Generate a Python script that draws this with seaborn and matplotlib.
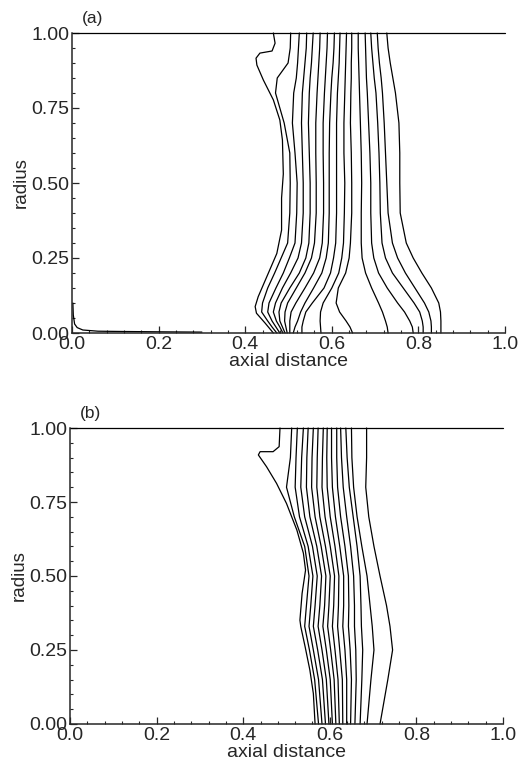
import numpy as np
import pandas as pd
import matplotlib
matplotlib.use("Agg")
import matplotlib.pyplot as plt
import seaborn as sns
from matplotlib.ticker import MultipleLocator, FormatStrFormatter

sns.set_style("ticks")
plt.rcParams['font.family'] = ['Liberation Sans', 'DejaVu Sans']

# ---------------- panel (a) data ----------------
A_R = [1.0, 0.95, 0.9, 0.85, 0.8, 0.7, 0.6, 0.5, 0.4, 0.3, 0.25, 0.2, 0.15, 0.1, 0.07, 0.04, 0.02, 0.0]
A1_X = [0.465, 0.469, 0.462, 0.434, 0.425, 0.427, 0.442, 0.465, 0.480, 0.486, 0.488, 0.484, 0.484, 0.473, 0.450, 0.430, 0.423, 0.426, 0.446, 0.465]
A1_R = [1.0, 0.966, 0.94, 0.933, 0.916, 0.893, 0.843, 0.777, 0.71, 0.643, 0.53, 0.45, 0.343, 0.265, 0.188, 0.121, 0.088, 0.066, 0.033, 0.0]
A_LINES = [
    [0.505, 0.504, 0.499, 0.474, 0.470, 0.490, 0.503, 0.504, 0.503, 0.498, 0.483, 0.468, 0.452, 0.440, 0.438, 0.452, 0.462, 0.473],
    [0.525, 0.523, 0.521, 0.518, 0.512, 0.509, 0.515, 0.520, 0.519, 0.515, 0.502, 0.488, 0.471, 0.455, 0.452, 0.462, 0.471, 0.480],
    [0.542, 0.541, 0.538, 0.535, 0.532, 0.530, 0.532, 0.534, 0.534, 0.530, 0.522, 0.505, 0.486, 0.470, 0.465, 0.472, 0.480, 0.487],
    [0.557, 0.555, 0.553, 0.550, 0.548, 0.546, 0.548, 0.550, 0.550, 0.547, 0.540, 0.525, 0.503, 0.483, 0.478, 0.480, 0.486, 0.492],
    [0.573, 0.572, 0.570, 0.568, 0.566, 0.563, 0.563, 0.564, 0.564, 0.560, 0.553, 0.538, 0.518, 0.498, 0.492, 0.491, 0.494, 0.497],
    [0.590, 0.589, 0.587, 0.585, 0.583, 0.580, 0.580, 0.581, 0.581, 0.578, 0.572, 0.558, 0.538, 0.517, 0.506, 0.503, 0.503, 0.503],
    [0.606, 0.605, 0.603, 0.600, 0.598, 0.595, 0.594, 0.594, 0.594, 0.592, 0.587, 0.577, 0.558, 0.538, 0.528, 0.521, 0.515, 0.511],
    [0.619, 0.618, 0.617, 0.615, 0.613, 0.611, 0.611, 0.611, 0.611, 0.609, 0.604, 0.597, 0.582, 0.555, 0.540, 0.534, 0.531, 0.531],
    [0.634, 0.633, 0.632, 0.631, 0.630, 0.628, 0.628, 0.630, 0.629, 0.627, 0.623, 0.616, 0.600, 0.580, 0.574, 0.573, 0.574, 0.575],
    [0.646, 0.646, 0.645, 0.645, 0.644, 0.643, 0.645, 0.646, 0.646, 0.643, 0.640, 0.632, 0.615, 0.610, 0.618, 0.633, 0.642, 0.648],
    [0.661, 0.661, 0.662, 0.663, 0.664, 0.666, 0.668, 0.669, 0.668, 0.668, 0.670, 0.678, 0.692, 0.708, 0.717, 0.724, 0.728, 0.730],
    [0.677, 0.678, 0.679, 0.680, 0.682, 0.685, 0.688, 0.690, 0.690, 0.692, 0.697, 0.708, 0.728, 0.752, 0.768, 0.780, 0.786, 0.788],
    [0.690, 0.692, 0.695, 0.698, 0.702, 0.706, 0.709, 0.711, 0.712, 0.716, 0.724, 0.740, 0.765, 0.790, 0.803, 0.809, 0.811, 0.811],
    [0.705, 0.707, 0.710, 0.714, 0.717, 0.721, 0.724, 0.727, 0.730, 0.740, 0.752, 0.770, 0.792, 0.814, 0.824, 0.829, 0.830, 0.830],
    [0.727, 0.730, 0.735, 0.741, 0.747, 0.755, 0.757, 0.757, 0.758, 0.772, 0.788, 0.808, 0.830, 0.847, 0.851, 0.852, 0.852, 0.852],
]
A_CORNER_X = [0.002, 0.003, 0.006, 0.012, 0.025, 0.06, 0.12, 0.2, 0.3]
A_CORNER_R = [0.1, 0.06, 0.03, 0.018, 0.01, 0.006, 0.005, 0.004, 0.003]

# ---------------- panel (b) data ----------------
B_R = [1.0, 0.9, 0.8, 0.7, 0.6, 0.5, 0.4, 0.33, 0.25, 0.15, 0.0]
B1_X = [0.485, 0.483, 0.469, 0.439, 0.435, 0.454, 0.477, 0.500, 0.524, 0.539, 0.544, 0.536, 0.531, 0.533, 0.543, 0.554, 0.562, 0.566]
B1_R = [1.0, 0.937, 0.92, 0.92, 0.909, 0.869, 0.813, 0.745, 0.655, 0.577, 0.52, 0.441, 0.351, 0.329, 0.261, 0.182, 0.103, 0.0]
B_LINES = [
    [0.512, 0.509, 0.500, 0.518, 0.542, 0.552, 0.546, 0.542, 0.553, 0.565, 0.574],
    [0.525, 0.522, 0.520, 0.530, 0.550, 0.561, 0.556, 0.552, 0.562, 0.574, 0.582],
    [0.539, 0.535, 0.533, 0.542, 0.560, 0.571, 0.566, 0.562, 0.572, 0.583, 0.590],
    [0.550, 0.547, 0.546, 0.554, 0.570, 0.581, 0.577, 0.573, 0.582, 0.592, 0.598],
    [0.562, 0.559, 0.558, 0.566, 0.580, 0.591, 0.588, 0.584, 0.592, 0.601, 0.606],
    [0.573, 0.571, 0.570, 0.577, 0.590, 0.601, 0.598, 0.595, 0.602, 0.610, 0.614],
    [0.585, 0.583, 0.582, 0.589, 0.601, 0.611, 0.609, 0.606, 0.612, 0.619, 0.622],
    [0.594, 0.593, 0.594, 0.601, 0.612, 0.621, 0.620, 0.618, 0.623, 0.629, 0.630],
    [0.604, 0.604, 0.606, 0.613, 0.623, 0.632, 0.632, 0.630, 0.635, 0.639, 0.639],
    [0.616, 0.616, 0.618, 0.625, 0.635, 0.643, 0.644, 0.643, 0.647, 0.650, 0.648],
    [0.625, 0.627, 0.631, 0.639, 0.648, 0.655, 0.657, 0.657, 0.660, 0.661, 0.658],
    [0.637, 0.640, 0.645, 0.654, 0.663, 0.670, 0.672, 0.673, 0.676, 0.674, 0.670],
    [0.650, 0.651, 0.655, 0.663, 0.674, 0.686, 0.693, 0.698, 0.702, 0.695, 0.686],
    [0.685, 0.685, 0.683, 0.690, 0.702, 0.716, 0.731, 0.739, 0.745, 0.734, 0.716],
]

TOP_X = [0.0, 1.0]
TOP_R = [1.0, 1.0]


def build_frame(first_x, first_r, r_grid, lines, extras):
    rows = []
    rows += [("l0", x, r) for x, r in zip(first_x, first_r)]
    for i, xs in enumerate(lines, start=1):
        rows += [(f"l{i}", x, r) for x, r in zip(xs, r_grid)]
    for j, (xs, rs) in enumerate(extras):
        rows += [(f"e{j}", x, r) for x, r in zip(xs, rs)]
    return pd.DataFrame(rows, columns=["line", "x", "r"])


df_a = build_frame(A1_X, A1_R, A_R, A_LINES, [(TOP_X, TOP_R), (A_CORNER_X, A_CORNER_R)])
df_b = build_frame(B1_X, B1_R, B_R, B_LINES, [(TOP_X, TOP_R)])

W, H = 518, 767
fig = plt.figure(figsize=(W / 100, H / 100), dpi=100)
ax_a = fig.add_axes([72 / W, 1 - 333 / H, 433 / W, 300 / H])
ax_b = fig.add_axes([70 / W, 1 - 724 / H, 433 / W, 296 / H])

for ax, df, lab in [(ax_a, df_a, "(a)"), (ax_b, df_b, "(b)")]:
    sns.lineplot(data=df, x="x", y="r", units="line", estimator=None, sort=False,
                 color="black", linewidth=0.9, legend=False, ax=ax)
    for ln in ax.lines:
        ln.set_clip_on(False)
    ax.set_xlim(0, 1.0)
    ax.set_ylim(0, 1.0)
    ax.spines["top"].set_visible(False)
    ax.spines["right"].set_visible(False)
    ax.spines["left"].set_linewidth(1.1)
    ax.spines["bottom"].set_linewidth(1.1)
    ax.xaxis.set_major_locator(MultipleLocator(0.2))
    ax.xaxis.set_minor_locator(MultipleLocator(0.04))
    ax.yaxis.set_major_locator(MultipleLocator(0.25))
    ax.yaxis.set_minor_locator(MultipleLocator(0.05))
    ax.xaxis.set_major_formatter(FormatStrFormatter("%.1f"))
    ax.yaxis.set_major_formatter(FormatStrFormatter("%.2f"))
    ax.tick_params(which="major", direction="in", length=5, width=0.9, labelsize=14, pad=2,
                   top=False, right=False)
    ax.tick_params(which="minor", direction="in", length=2.5, width=0.8, top=False, right=False)
    ax.set_xlabel("axial distance", fontsize=14, labelpad=0)
    ax.set_ylabel("radius", fontsize=13.5, labelpad=1)
    ax.text(0.022, 1.025, lab, transform=ax.transAxes, fontsize=12.5, ha="left", va="bottom")

fig.savefig("out.png", dpi=100)
